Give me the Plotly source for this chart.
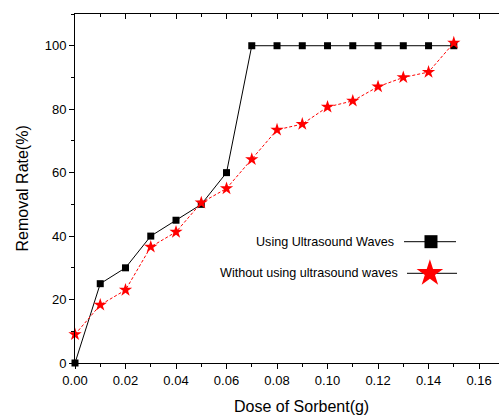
import plotly.graph_objects as go

dose = [0.00, 0.01, 0.02, 0.03, 0.04, 0.05, 0.06, 0.07, 0.08, 0.09, 0.10, 0.11, 0.12, 0.13, 0.14, 0.15]
with_us = [0, 25, 30, 40, 45, 50, 60, 100, 100, 100, 100, 100, 100, 100, 100, 100]
without_us = [9.0, 18.3, 23.0, 36.6, 41.3, 50.5, 55.0, 64.2, 73.5, 75.3, 80.7, 82.6, 87.1, 90.0, 91.7, 100.9]
x_ticks = [0.00, 0.02, 0.04, 0.06, 0.08, 0.10, 0.12, 0.14, 0.16]
x_ticklabels = ["0.00", "0.02", "0.04", "0.06", "0.08", "0.10", "0.12", "0.14", "0.16"]
y_ticks = [0, 20, 40, 60, 80, 100]
series_names = ["Using Ultrasound Waves", "Without using ultrasound waves"]

FONT = "Liberation Sans, Arial, sans-serif"
X_MAX = 0.1679

fig = go.Figure()
fig.add_trace(go.Scatter(x=dose, y=with_us, mode="lines+markers", name=series_names[0],
                         line=dict(color="black", width=1),
                         marker=dict(symbol="square", size=7, color="black"),
                         showlegend=False, cliponaxis=False))
fig.add_trace(go.Scatter(x=dose, y=without_us, mode="lines+markers", name=series_names[1],
                         line=dict(color="red", width=1, dash="3px,2px"),
                         marker=dict(symbol="star", size=10, color="red"),
                         showlegend=False, cliponaxis=False))
# trace on the top axis (invisible) so the top axis is drawn
fig.add_trace(go.Scatter(x=dose, y=with_us, xaxis="x2", yaxis="y", mode="markers",
                         marker=dict(size=1, color="rgba(0,0,0,0)"),
                         showlegend=False, hoverinfo="skip"))

# custom legend (key on the right of the text) on a hidden paper-like axis
leg = [
    dict(name=series_names[0], ty=0.3476, tx=0.757, x0=0.776, x1=0.8986, xm=0.8396,
         sym="square", size=13, color="black"),
    dict(name=series_names[1], ty=0.257, tx=0.7665, x0=0.783, x1=0.901, xm=0.837,
         sym="star", size=20, color="red"),
]
for L in leg:
    fig.add_trace(go.Scatter(x=[L["x0"], L["x1"]], y=[L["ty"], L["ty"]], mode="lines",
                             line=dict(color="black", width=1), xaxis="x3", yaxis="y3",
                             showlegend=False, hoverinfo="skip"))
    fig.add_trace(go.Scatter(x=[L["xm"]], y=[L["ty"]], mode="markers",
                             marker=dict(symbol=L["sym"], size=L["size"], color=L["color"]),
                             xaxis="x3", yaxis="y3", showlegend=False, hoverinfo="skip"))
    fig.add_annotation(x=L["tx"], y=L["ty"], xref="paper", yref="paper", text=L["name"],
                       showarrow=False, xanchor="right", yanchor="middle",
                       font=dict(family=FONT, size=12.6, color="black"))

# axis titles as annotations (placed relative to plot area)
fig.add_annotation(x=0.535, y=-0.125, xref="paper", yref="paper", text="Dose of Sorbent(g)",
                   showarrow=False, xanchor="center", yanchor="middle",
                   font=dict(family=FONT, size=16, color="black"))
fig.add_annotation(x=-0.125, y=0.5, xref="paper", yref="paper", text="Removal Rate(%)",
                   showarrow=False, xanchor="center", yanchor="middle", textangle=-90,
                   font=dict(family=FONT, size=16, color="black"))

axis_common = dict(showline=True, linecolor="black", linewidth=1, showgrid=False,
                   zeroline=False, automargin=False)

fig.update_layout(
    width=499, height=417,
    margin=dict(l=75, r=0, t=14, b=54),
    paper_bgcolor="white", plot_bgcolor="white",
    font=dict(family=FONT, color="black"),
    xaxis=dict(range=[0, X_MAX], tickvals=x_ticks, ticktext=x_ticklabels,
               ticks="outside", ticklen=5, tickwidth=1, tickcolor="black", mirror=True,
               minor=dict(dtick=0.01, tick0=0, ticks="outside", ticklen=3, tickcolor="black"),
               tickfont=dict(size=13), **axis_common),
    yaxis=dict(range=[0, 110], tickvals=y_ticks, ticks="outside", ticklen=5, tickwidth=1,
               tickcolor="black",
               minor=dict(dtick=10, tick0=0, ticks="outside", ticklen=3, tickcolor="black"),
               tickfont=dict(size=13), **axis_common),
    xaxis2=dict(range=[0, X_MAX], overlaying="x", anchor="y", side="top", tickvals=x_ticks,
                showticklabels=False, ticks="inside", ticklen=5, tickcolor="black",
                minor=dict(dtick=0.01, tick0=0, ticks="inside", ticklen=3, tickcolor="black"),
                **axis_common),
    xaxis3=dict(range=[0, 1], overlaying="x", anchor="y3", visible=False, fixedrange=True),
    yaxis3=dict(range=[0, 1], overlaying="y", anchor="x3", visible=False, fixedrange=True),
)

fig.write_html("out.html", config={"displayModeBar": False},
               post_script="document.body.style.margin='0';document.body.style.padding='0';")
